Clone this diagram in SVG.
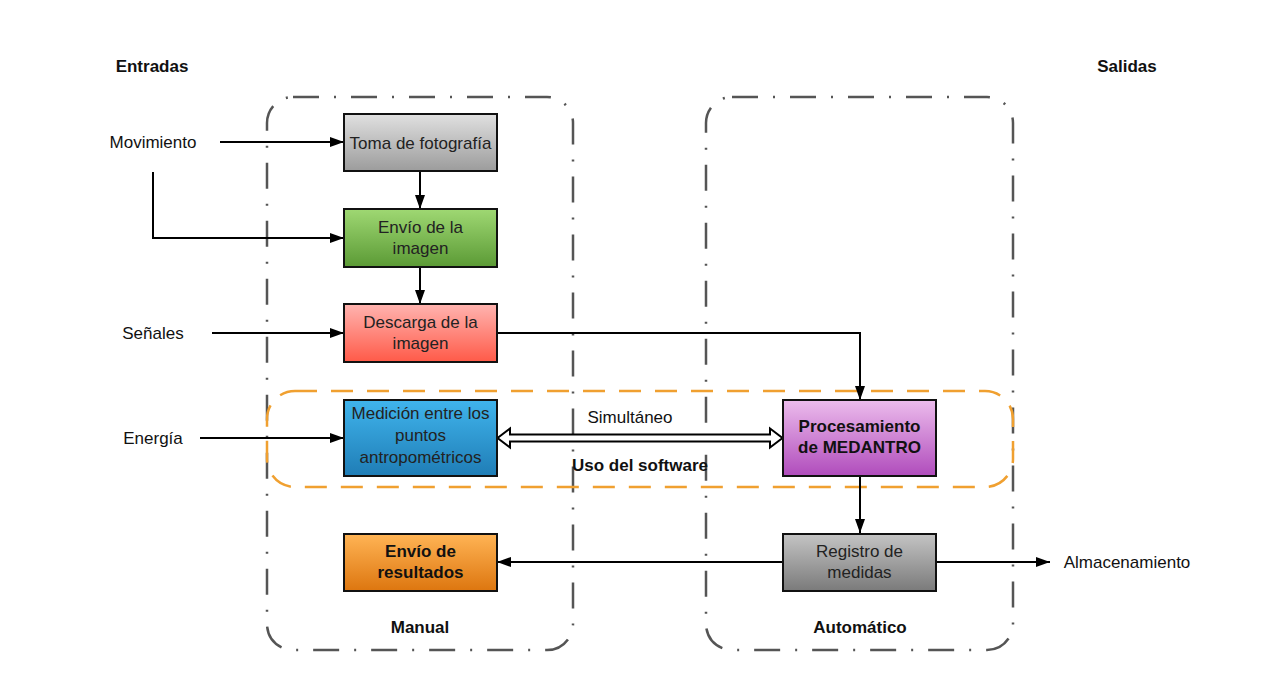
<svg xmlns="http://www.w3.org/2000/svg" width="1280" height="687" viewBox="0 0 1280 687">
<defs>
<linearGradient id="gGray" x1="0" y1="0" x2="0" y2="1"><stop offset="0" stop-color="#e0e0e0"/><stop offset="1" stop-color="#9c9c9c"/></linearGradient>
<linearGradient id="gGreen" x1="0" y1="0" x2="0" y2="1"><stop offset="0" stop-color="#9fd873"/><stop offset="1" stop-color="#5b9a35"/></linearGradient>
<linearGradient id="gRed" x1="0" y1="0" x2="0" y2="1"><stop offset="0" stop-color="#ffb4b0"/><stop offset="1" stop-color="#ff5a48"/></linearGradient>
<linearGradient id="gBlue" x1="0" y1="0" x2="0" y2="1"><stop offset="0" stop-color="#40b4ec"/><stop offset="1" stop-color="#1f7db6"/></linearGradient>
<linearGradient id="gOrange" x1="0" y1="0" x2="0" y2="1"><stop offset="0" stop-color="#ffb455"/><stop offset="1" stop-color="#dd760f"/></linearGradient>
<linearGradient id="gPurple" x1="0" y1="0" x2="0" y2="1"><stop offset="0" stop-color="#ecbcec"/><stop offset="1" stop-color="#b04cbc"/></linearGradient>
<linearGradient id="gDark" x1="0" y1="0" x2="0" y2="1"><stop offset="0" stop-color="#c4c4c4"/><stop offset="1" stop-color="#7a7a7a"/></linearGradient>
<marker id="arr" viewBox="0 0 14 10" refX="14" refY="5" markerWidth="14" markerHeight="10" markerUnits="userSpaceOnUse" orient="auto">
<path d="M0,0 L14,5 L0,10 Z" fill="#000"/>
</marker>
</defs>
<style>
.box{stroke:#111;stroke-width:2}
.t{font-family:"Liberation Sans",Arial,sans-serif;font-size:17px;fill:#222;text-anchor:middle}
.b{font-weight:bold;fill:#111}
.lbl{font-family:"Liberation Sans",Arial,sans-serif;font-size:17px;fill:#111;text-anchor:middle}
.cont{fill:none;stroke:#555;stroke-width:2.5;stroke-dasharray:26 15 2 15}
.sw{fill:none;stroke:#f0a030;stroke-width:2.5;stroke-dasharray:22 14}
.c{fill:none;stroke:#000;stroke-width:2;marker-end:url(#arr)}
</style>
<rect width="1280" height="687" fill="#fff"/>
<g id="containers">
<rect id="manual" class="cont" x="267" y="97" width="306" height="553" rx="26" ry="26"/>
<rect id="automatico" class="cont" x="706" y="97" width="307" height="553" rx="26" ry="26"/>
<rect id="software" class="sw" x="267" y="391" width="746" height="96" rx="28" ry="28"/>
</g>
<g id="labels">
<text class="lbl b" x="152" y="72">Entradas</text>
<text class="lbl b" x="1127" y="72">Salidas</text>
<text class="lbl" x="153" y="148">Movimiento</text>
<text class="lbl" x="153" y="339">Señales</text>
<text class="lbl" x="153" y="444">Energía</text>
<text class="lbl" x="1127" y="568">Almacenamiento</text>
<text class="lbl b" x="420" y="633">Manual</text>
<text class="lbl b" x="860" y="633">Automático</text>
<text class="lbl" x="630" y="423">Simultáneo</text>
<text class="lbl b" x="640" y="471">Uso del software</text>
</g>
<g id="connectors">
<path class="c" d="M220,142 L344,142"/>
<path class="c" d="M153,172 L153,238 L344,238"/>
<path class="c" d="M212,333 L344,333"/>
<path class="c" d="M200,438 L344,438"/>
<path class="c" d="M420,171 L420,209"/>
<path class="c" d="M420,267 L420,304"/>
<path class="c" d="M497,333 L860,333 L860,400"/>
<path class="c" d="M860,476 L860,533"/>
<path class="c" d="M783,562 L497,562"/>
<path class="c" d="M936,562 L1050,562"/>
<path d="M497.5,438 L510,428.5 L510,434.5 L770,434.5 L770,428.5 L782.5,438 L770,447.5 L770,441.5 L510,441.5 L510,447.5 Z" fill="#fff" stroke="#000" stroke-width="2" stroke-linejoin="miter"/>
</g>
<g id="n-toma">
<rect class="box" x="344" y="114" width="153" height="57" fill="url(#gGray)"/>
<text class="t" x="420.5" y="148.5">Toma de fotografía</text>
</g>
<g id="n-envio">
<rect class="box" x="344" y="209" width="153" height="58" fill="url(#gGreen)"/>
<text class="t" x="420.5" y="233">Envío de la</text>
<text class="t" x="420.5" y="254">imagen</text>
</g>
<g id="n-descarga">
<rect class="box" x="344" y="304" width="153" height="58" fill="url(#gRed)"/>
<text class="t" x="420.5" y="328">Descarga de la</text>
<text class="t" x="420.5" y="349">imagen</text>
</g>
<g id="n-medicion">
<rect class="box" x="344" y="400" width="153" height="76" fill="url(#gBlue)"/>
<text class="t" x="420.5" y="419">Medición entre los</text>
<text class="t" x="420.5" y="441">puntos</text>
<text class="t" x="420.5" y="463">antropométricos</text>
</g>
<g id="n-resultados">
<rect class="box" x="344" y="534" width="153" height="57" fill="url(#gOrange)"/>
<text class="t b" x="420.5" y="557">Envío de</text>
<text class="t b" x="420.5" y="578">resultados</text>
</g>
<g id="n-procesamiento">
<rect class="box" x="783" y="400" width="153" height="76" fill="url(#gPurple)"/>
<text class="t b" x="859.5" y="432">Procesamiento</text>
<text class="t b" x="859.5" y="453">de MEDANTRO</text>
</g>
<g id="n-registro">
<rect class="box" x="783" y="534" width="153" height="57" fill="url(#gDark)"/>
<text class="t" x="859.5" y="557">Registro de</text>
<text class="t" x="859.5" y="578">medidas</text>
</g>
</svg>
